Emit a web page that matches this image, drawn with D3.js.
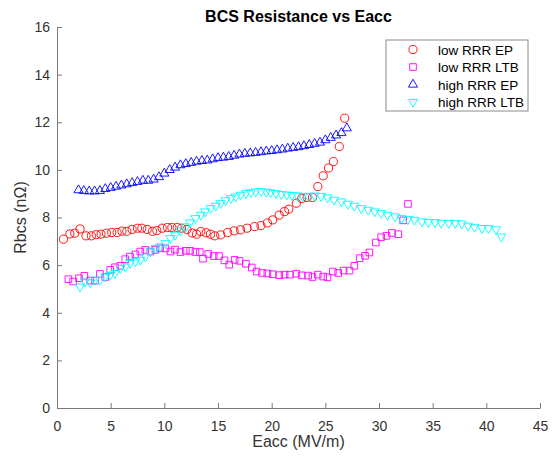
<!DOCTYPE html>
<html>
<head>
<meta charset="utf-8">
<script src="https://cdn.jsdelivr.net/npm/d3@7.9.0/dist/d3.min.js"></script>
<style>
  html, body { margin: 0; padding: 0; background: #fff; }
  svg { display: block; font-family: "Liberation Sans", Arial, sans-serif; }
</style>
</head>
<body>
<div id="chart"></div>
<script>
// low RRR EP (red circles)
const lowEpX = [0.6, 1.2, 1.65, 2.15, 2.7, 3.2, 3.65, 4.1, 4.6, 5.1, 5.6, 6.05, 6.5, 7.0, 7.5, 7.9, 8.4, 8.9, 9.3, 9.8,
  10.3, 10.7, 11.2, 11.6, 12.1, 12.6, 13.0, 13.4, 13.9, 14.3, 14.7, 15.25, 15.9, 16.5, 17.1, 17.7, 18.4, 19.0, 19.6, 20.1,
  20.7, 21.2, 21.6, 22.3, 22.8, 23.3, 23.8, 24.3, 24.8, 25.3, 25.75, 26.3, 26.8];
const lowEpY = [7.09, 7.31, 7.34, 7.52, 7.23, 7.23, 7.28, 7.3, 7.34, 7.37, 7.37, 7.43, 7.42, 7.5, 7.55, 7.55, 7.5, 7.42, 7.45, 7.55,
  7.58, 7.58, 7.58, 7.55, 7.5, 7.35, 7.3, 7.41, 7.36, 7.3, 7.23, 7.27, 7.37, 7.44, 7.48, 7.55, 7.62, 7.66, 7.77, 7.9,
  8.1, 8.25, 8.35, 8.6, 8.8, 8.84, 8.84, 9.3, 9.75, 10.08, 10.35, 10.98, 12.17];

// low RRR LTB (magenta squares)
const lowLtbX = [1.06, 1.5, 2.05, 2.55, 3.1, 3.55, 4.0, 4.5, 4.96, 5.4, 5.9, 6.36, 6.8, 7.3, 7.76, 8.23, 8.7, 9.17, 9.6, 10.1,
  10.57, 11.0, 11.5, 12.0, 12.4, 12.9, 13.3, 13.6, 14.1, 14.6, 15.1, 15.6, 16.05, 16.55, 17.0, 17.6, 18.15, 18.6, 19.1, 19.6,
  20.1, 20.7, 21.2, 21.7, 22.3, 22.8, 23.4, 23.8, 24.3, 24.8, 25.2, 25.7, 26.2, 26.7, 27.25, 27.7, 28.2, 28.7, 29.1, 29.7,
  30.2, 30.7, 31.2, 31.8, 32.25, 32.7];
const lowLtbY = [5.41, 5.31, 5.45, 5.55, 5.35, 5.35, 5.63, 5.5, 5.8, 5.91, 5.97, 6.25, 6.36, 6.45, 6.57, 6.64, 6.57, 6.64, 6.71, 6.7,
  6.57, 6.65, 6.55, 6.6, 6.6, 6.55, 6.55, 6.27, 6.47, 6.38, 6.38, 6.2, 6.02, 6.22, 6.18, 6.06, 5.9, 5.73, 5.67, 5.65,
  5.62, 5.58, 5.6, 5.6, 5.64, 5.57, 5.56, 5.5, 5.6, 5.52, 5.49, 5.73, 5.67, 5.77, 5.77, 5.97, 6.29, 6.39, 6.53, 6.95,
  7.17, 7.23, 7.35, 7.3, 7.88, 8.57];

// high RRR EP (blue up triangles)
const highEpX = [2.0, 2.5, 3.0, 3.5, 4.0, 4.5, 5.0, 5.5, 6.0, 6.5, 7.0, 7.5, 8.0, 8.5, 9.0, 9.5, 10.0, 10.5, 11.0, 11.5,
  12.0, 12.5, 13.0, 13.5, 14.0, 14.5, 15.0, 15.5, 16.0, 16.5, 17.0, 17.5, 18.0, 18.5, 19.0, 19.5, 20.0, 20.5, 21.0, 21.5,
  22.0, 22.5, 23.0, 23.5, 24.0, 24.5, 25.0, 25.5, 26.0, 26.5, 27.0];
const highEpY = [9.15, 9.12, 9.1, 9.1, 9.12, 9.2, 9.25, 9.3, 9.35, 9.4, 9.45, 9.5, 9.55, 9.55, 9.6, 9.7, 9.85, 10.0, 10.1, 10.2,
  10.25, 10.3, 10.35, 10.38, 10.4, 10.45, 10.5, 10.52, 10.55, 10.6, 10.65, 10.68, 10.7, 10.72, 10.75, 10.78, 10.8, 10.83, 10.86, 10.9,
  10.93, 10.96, 11.0, 11.05, 11.1, 11.15, 11.25, 11.35, 11.45, 11.55, 11.75];

// high RRR LTB (cyan down triangles)
const highLtbX = [2.15, 2.6, 3.1, 3.55, 4.0, 4.5, 4.96, 5.4, 5.9, 6.36, 6.8, 7.3, 7.76, 8.23, 8.7, 9.17, 9.6, 10.1, 10.57, 11.0,
  11.5, 12.0, 12.4, 12.9, 13.4, 13.8, 14.3, 14.8, 15.25, 15.7, 16.2, 16.65, 17.1, 17.6, 18.05, 18.5, 19.0, 19.5, 19.9, 20.4,
  20.9, 21.4, 21.9, 22.4, 22.9, 23.4, 24.0, 24.6, 25.2, 25.8, 26.5, 27.1, 27.7, 28.35, 29.0, 29.6, 30.2, 30.8, 31.5, 32.1,
  32.7, 33.3, 34.0, 34.6, 35.2, 35.8, 36.5, 37.1, 37.7, 38.3, 38.9, 39.6, 40.2, 40.9, 41.4];
const highLtbY = [5.1, 5.3, 5.27, 5.38, 5.38, 5.52, 5.59, 5.66, 5.87, 5.94, 6.08, 6.15, 6.22, 6.36, 6.57, 6.71, 6.78, 6.92, 7.13, 7.27,
  7.45, 7.62, 7.79, 7.97, 8.11, 8.25, 8.39, 8.49, 8.6, 8.72, 8.81, 8.88, 8.95, 9.02, 9.05, 9.09, 9.1, 9.08, 9.05, 9.02,
  8.98, 8.96, 8.94, 8.92, 8.9, 8.9, 8.92, 8.9, 8.84, 8.74, 8.67, 8.57, 8.49, 8.39, 8.32, 8.25, 8.18, 8.11, 8.04, 7.97,
  7.93, 7.9, 7.83, 7.8, 7.8, 7.77, 7.77, 7.77, 7.74, 7.65, 7.6, 7.55, 7.55, 7.5, 7.2];

const seriesNames = ['low RRR EP', 'low RRR LTB', 'high RRR EP', 'high RRR LTB'];
const xTicks = [0, 5, 10, 15, 20, 25, 30, 35, 40, 45];
const yTicks = [0, 2, 4, 6, 8, 10, 12, 14, 16];

const width = 554, height = 458;
const margin = { top: 27, right: 14, bottom: 50, left: 57 };

const series = [
  { name: seriesNames[0], xs: lowEpX, ys: lowEpY, color: '#ff0000', symbol: d3.symbolCircle, size: 52, rot: 0 },
  { name: seriesNames[1], xs: lowLtbX, ys: lowLtbY, color: '#ff00ff', symbol: d3.symbolSquare, size: 44, rot: 0 },
  { name: seriesNames[2], xs: highEpX, ys: highEpY, color: '#0000ff', symbol: d3.symbolTriangle, size: 36, rot: 0 },
  { name: seriesNames[3], xs: highLtbX, ys: highLtbY, color: '#00ffff', symbol: d3.symbolTriangle, size: 36, rot: 180 },
];

const svg = d3.select('#chart').append('svg')
  .attr('width', width)
  .attr('height', height);

const x = d3.scaleLinear().domain([0, 45]).range([margin.left, width - margin.right]);
const y = d3.scaleLinear().domain([0, 16]).range([height - margin.bottom, margin.top]);

// Axes (MATLAB style: ticks inside, no box)
const xAxis = d3.axisBottom(x).tickValues(xTicks).tickSizeInner(-5).tickSizeOuter(0).tickPadding(13);
const yAxis = d3.axisLeft(y).tickValues(yTicks).tickSizeInner(-5).tickSizeOuter(0).tickPadding(7);

const gx = svg.append('g')
  .attr('transform', `translate(0,${y(0)})`)
  .call(xAxis);
const gy = svg.append('g')
  .attr('transform', `translate(${x(0)},0)`)
  .call(yAxis);

[gx, gy].forEach(g => {
  g.select('.domain').attr('stroke', '#7a7a7a');
  g.selectAll('.tick line').attr('stroke', '#7a7a7a');
  g.selectAll('.tick text').attr('fill', '#333').style('font-size', '14px');
});

// Markers
series.forEach(s => {
  const pts = s.xs.map((v, i) => [v, s.ys[i]]);
  svg.append('g')
    .selectAll('path')
    .data(pts)
    .join('path')
    .attr('d', d3.symbol(s.symbol, s.size))
    .attr('transform', d => `translate(${x(d[0])},${y(d[1])}) rotate(${s.rot})`)
    .attr('fill', 'none')
    .attr('stroke', s.color)
    .attr('stroke-width', 0.9);
});

// Title and labels
svg.append('text')
  .attr('x', (x(0) + x(45)) / 2)
  .attr('y', 21.5)
  .attr('text-anchor', 'middle')
  .attr('fill', '#000')
  .style('font-size', '16px')
  .style('font-weight', 'bold')
  .text('BCS Resistance vs Eacc');

svg.append('text')
  .attr('x', (x(0) + x(45)) / 2)
  .attr('y', 447)
  .attr('text-anchor', 'middle')
  .attr('fill', '#333')
  .style('font-size', '16px')
  .text('Eacc (MV/m)');

svg.append('text')
  .attr('transform', `translate(26,${(y(0) + y(16)) / 2}) rotate(-90)`)
  .attr('text-anchor', 'middle')
  .attr('fill', '#333')
  .style('font-size', '16px')
  .text('Rbcs (nΩ)');

// Legend
const legend = svg.append('g').attr('transform', 'translate(386,40)');
legend.append('rect')
  .attr('width', 142)
  .attr('height', 71)
  .attr('fill', '#fff')
  .attr('stroke', '#8a8a8a')
  .attr('stroke-width', 1);

series.forEach((s, i) => {
  const cy = 9.5 + i * 17.5;
  legend.append('path')
    .attr('d', d3.symbol(s.symbol, s.size))
    .attr('transform', `translate(27,${cy}) rotate(${s.rot})`)
    .attr('fill', 'none')
    .attr('stroke', s.color)
    .attr('stroke-width', 0.9);
  legend.append('text')
    .attr('x', 52)
    .attr('y', cy + 5)
    .attr('fill', '#000')
    .style('font-size', '13.5px')
    .text(s.name);
});
</script>
</body>
</html>
